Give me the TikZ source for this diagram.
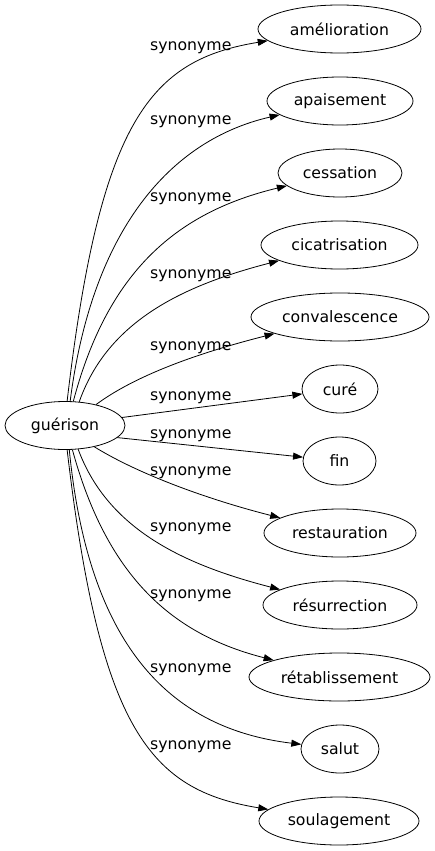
\documentclass[tikz,border=0pt]{standalone}
\usepackage{fontspec}
\setmainfont{DejaVu Sans}
\usepackage{tikz}
\usetikzlibrary{arrows.meta,shapes.geometric}

\tikzset{
  word/.style={ellipse, draw, line width=0.8pt, minimum height=48pt, inner sep=0pt, font=\fontsize{15.7}{19}\selectfont},
  rel/.style={anchor=base west, inner sep=0pt, font=\fontsize{15.7}{19}\selectfont},
  syn/.style={-{Triangle[length=10pt,width=7pt]}, line width=0.8pt},
}

\begin{document}
\begin{tikzpicture}[x=1pt,y=-1pt]
      \useasboundingbox (0,0) rectangle (435,851);
      \node[word, minimum width=120pt] (g) at (65,425.5) {guérison};

      \node[word, minimum width=163pt] (amel) at (339.5,29) {amélioration};
      \node[word, minimum width=146pt] (apai) at (340,101) {apaisement};
      \node[word, minimum width=124pt] (cess) at (340,173) {cessation};
      \node[word, minimum width=157pt] (cica) at (339.5,245) {cicatrisation};
      \node[word, minimum width=178pt] (conv) at (340,317) {convalescence};
      \node[word, minimum width=76pt] (cure) at (340,389) {curé};
      \node[word, minimum width=73pt] (fin) at (339.5,461) {fin};
      \node[word, minimum width=152pt] (rest) at (340,533) {restauration};
      \node[word, minimum width=154pt] (resu) at (340,605) {résurrection};
      \node[word, minimum width=181pt] (reta) at (339.5,677) {rétablissement};
      \node[word, minimum width=78pt] (salu) at (340,749) {salut};
      \node[word, minimum width=160pt] (soul) at (339,821) {soulagement};

      \node[rel] (l1) at (150,50.7) {synonyme};
      \node[rel] (l2) at (150,124) {synonyme};
      \node[rel] (l3) at (150,201.7) {synonyme};
      \node[rel] (l4) at (150,278) {synonyme};
      \node[rel] (l5) at (150,350) {synonyme};
      \node[rel] (l6) at (150,400.7) {synonyme};
      \node[rel] (l7) at (150,438.3) {synonyme};
      \node[rel] (l8) at (150,475) {synonyme};
      \node[rel] (l9) at (150,531.7) {synonyme};
      \node[rel] (l10) at (150,598) {synonyme};
      \node[rel] (l11) at (150,672.7) {synonyme};
      \node[rel] (l12) at (150,749) {synonyme};

      \draw[syn] (g.85) .. controls (100,120) and (150,60) .. (amel);
      \draw[syn] (g.78) .. controls (92,230) and (170,140) .. (apai);
      \draw[syn] (g.71) .. controls (108,270) and (178,212) .. (cess);
      \draw[syn] (g.59) .. controls (108,320) and (185,285) .. (cica);
      \draw[syn] (g.34) .. controls (140,372) and (210,350) .. (conv);
      \draw[syn] (g.8) -- (cure);
      \draw[syn] (g.-13) -- (fin);
      \draw[syn] (g.-36) .. controls (140,475) and (210,500) .. (rest);
      \draw[syn] (g.-61) .. controls (108,530) and (185,565) .. (resu);
      \draw[syn] (g.-73) .. controls (108,580) and (175,635) .. (reta);
      \draw[syn] (g.-80) .. controls (88,640) and (165,728) .. (salu);
      \draw[syn] (g.-85) .. controls (100,730) and (150,790) .. (soul);
\end{tikzpicture}
\end{document}
